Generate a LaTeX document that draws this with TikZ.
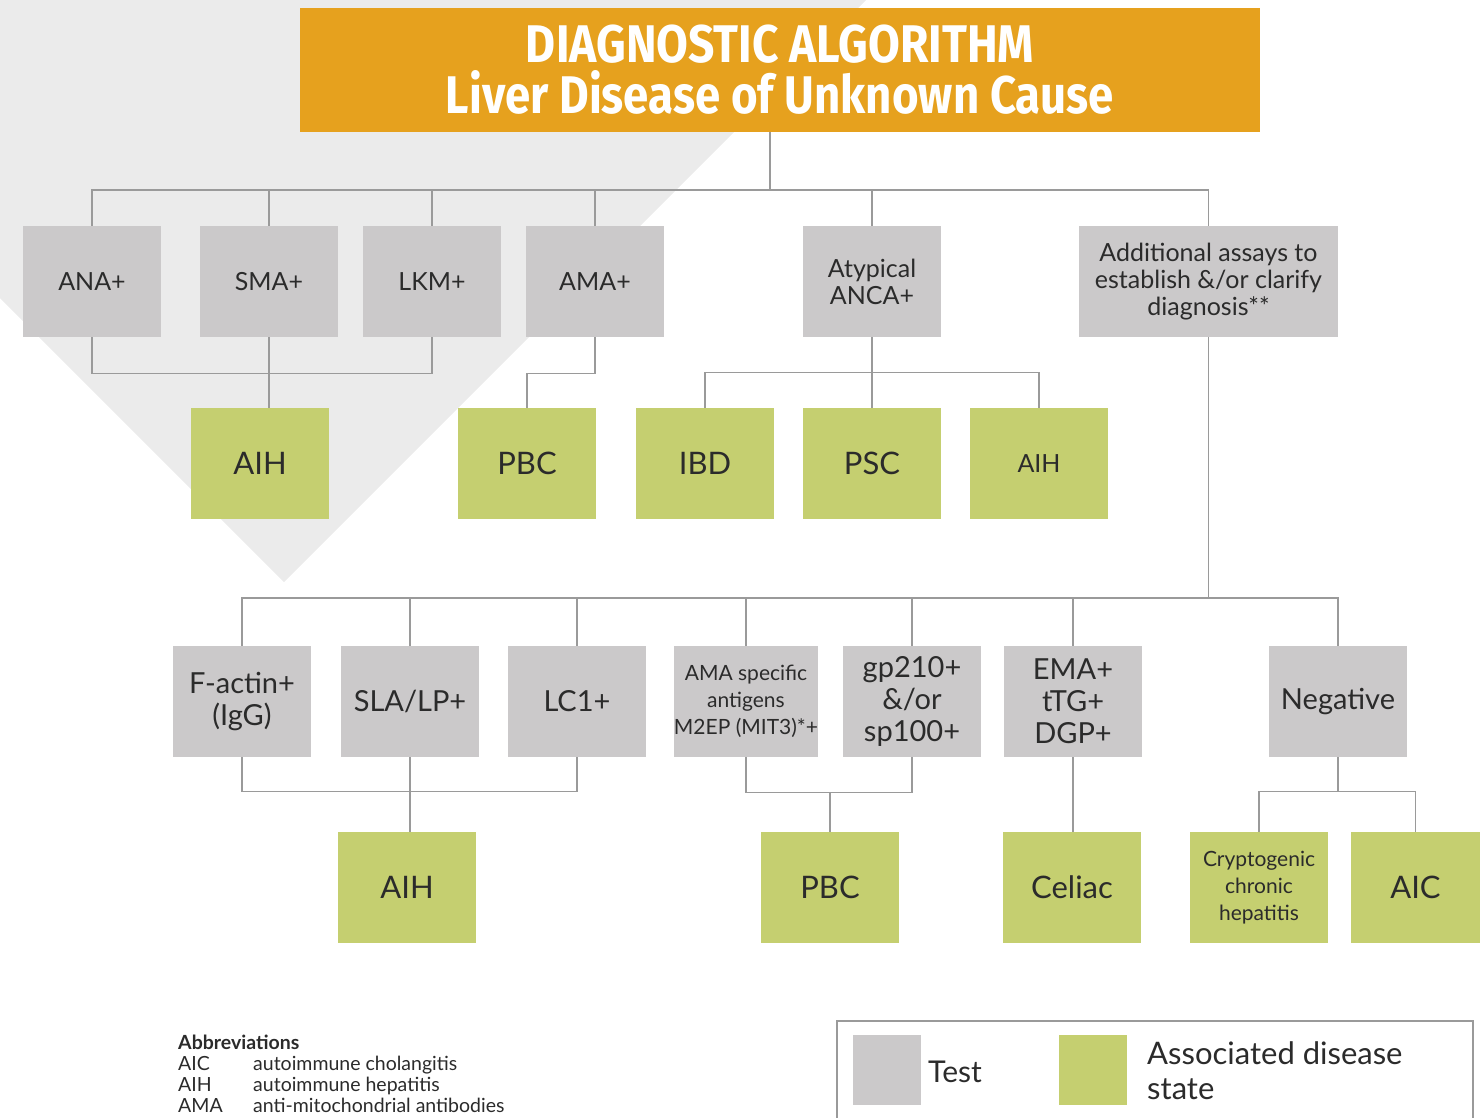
\documentclass[tikz,border=0pt]{standalone}
\usepackage{fontspec}
\setmainfont{Lato}
\newfontfamily\titlefont{Fira Sans}
\usetikzlibrary{positioning}

\definecolor{testgray}{HTML}{CBC9CA}
\definecolor{diseasegreen}{HTML}{C5CF70}
\definecolor{titleorange}{HTML}{E6A11E}
\definecolor{bggray}{HTML}{EBEBEB}
\definecolor{linegray}{HTML}{9A9A9A}
\definecolor{textdark}{HTML}{2B2B2B}

\begin{document}
\begin{tikzpicture}[%
  x = 1pt, y = -1pt,
  box/.style = {minimum width = 138, minimum height = 111, inner sep = 0pt,
    align = center, text = textdark},
  test/.style = {box, fill = testgray, font = \fontsize{25}{27}\selectfont},
  disease/.style = {box, fill = diseasegreen, font = \fontsize{31}{33}\selectfont},
  big/.style = {font = \fontsize{29}{32}\selectfont},
  small/.style = {font = \fontsize{21}{27}\selectfont},
  link/.style = {draw = linegray, line width = 1.3pt}]
  \useasboundingbox (0, 0) rectangle (1480, 1118);
  \fill[bggray] (0, 0) -- (866, 0) -- (284, 582) -- (0, 298) -- cycle;

  % title
  \node[fill = titleorange, minimum width = 960, minimum height = 124,
    inner sep = 0pt, align = center, text = white,
    font = \titlefont\bfseries\fontsize{53}{51}\selectfont] (title) at (780, 70)
    {\scalebox{0.87}[1]{DIAGNOSTIC ALGORITHM}\\\scalebox{0.86}[1]{Liver Disease of Unknown Cause}};

  % first tests
  \node[test] (ana)  at (92, 281.5)  {ANA+};
  \node[test] (sma)  at (269, 281.5) {SMA+};
  \node[test] (lkm)  at (432, 281.5) {LKM+};
  \node[test] (ama)  at (595, 281.5) {AMA+};
  \node[test] (anca) at (872, 281.5) {Atypical\\ANCA+};
  \node[test, minimum width = 259] (add) at (1208.5, 281.5)
    {Additional assays to\\establish \&/or clarify\\diagnosis**};

  % first diseases
  \node[disease] (aihA) at (260, 463.5)  {AIH};
  \node[disease] (pbcA) at (527, 463.5)  {PBC};
  \node[disease] (ibd)  at (705, 463.5)  {IBD};
  \node[disease] (psc)  at (872, 463.5)  {PSC};
  \node[disease, font = \fontsize{25}{27}\selectfont] (aihB) at (1039, 463.5) {AIH};

  % additional tests
  \node[test, big] (factin) at (242, 701.5)  {F-actin+\\(IgG)};
  \node[test, big] (sla)    at (410, 701.5)  {SLA/LP+};
  \node[test, big] (lc)     at (577, 701.5)  {LC1+};
  \node[test, small] (amasp) at (746, 701.5) {AMA specific\\antigens\\M2EP (MIT3)*+};
  \node[test, big] (gp)     at (912, 701.5)  {gp210+\\\&/or\\sp100+};
  \node[test, big] (ema)    at (1073, 701.5) {EMA+\\tTG+\\DGP+};
  \node[test, big] (neg)    at (1338, 701.5) {Negative};

  % second diseases
  \node[disease] (aihC)   at (407, 887.5)  {AIH};
  \node[disease] (pbcB)   at (830, 887.5)  {PBC};
  \node[disease] (celiac) at (1072, 887.5) {Celiac};
  \node[disease, small] (crypt) at (1259, 887.5) {Cryptogenic\\chronic\\hepatitis};
  \node[disease, minimum width = 129] (aic) at (1415.5, 887.5) {AIC};

  \coordinate (bus1) at (770, 190);
  \coordinate (bus2) at (1208, 598);

  % connectors
  \draw[link] (bus1 |- title.south) -- (bus1);
  \draw[link] (ana.north) -- (ana.north |- bus1) -| (add.north);
  \foreach \n in {sma, lkm, ama, anca}
    \draw[link] (\n.north) -- (\n.north |- bus1);
  \draw[link] (ana.south) -- ++(0, 36) -| (lkm.south);
  \draw[link] (sma.south) -- (sma.south |- aihA.north);
  \draw[link] (ama.south) -- ++(0, 36) -| (pbcA.north);
  \draw[link] (ibd.north) -- ++(0, -35) -| (aihB.north);
  \draw[link] (anca.south) -- (psc.north);

  \draw[link] (add.south) -- (add.south |- bus2);
  \draw[link] (factin.north) -- (factin.north |- bus2) -| (neg.north);
  \foreach \n in {sla, lc, amasp, gp, ema}
    \draw[link] (\n.north) -- (\n.north |- bus2);
  \draw[link] (factin.south) -- ++(0, 34) -| (lc.south);
  \draw[link] (sla.south) -- (sla.south |- aihC.north);
  \draw[link] (amasp.south) -- ++(0, 35) -| (gp.south);
  \draw[link] (pbcB.north) -- ++(0, -40);
  \draw[link] (ema.south) -- (ema.south |- celiac.north);
  \draw[link] (neg.south) -- ++(0, 35);
  \draw[link] (crypt.north) -- ++(0, -40) -| (aic.north);

  % legend
  \draw[linegray, line width = 2.5pt] (837, 1125) -- (837, 1021) -- (1473, 1021) -- (1473, 1125);
  \node[fill = testgray, minimum width = 68, minimum height = 70, inner sep = 0pt] (legtest) at (887, 1070) {};
  \node[anchor = west, text = textdark, font = \fontsize{30}{32}\selectfont, inner sep = 0pt]
    (legtesttext) at (928, 1072) {Test};
  \node[fill = diseasegreen, minimum width = 68, minimum height = 70, inner sep = 0pt] (legdis) at (1093, 1070) {};
  \node[anchor = west, text = textdark, align = left, font = \fontsize{31}{35}\selectfont, inner sep = 0pt]
    (legdistext) at (1147, 1071) {Associated disease\\state};

  % abbreviations
  \node[anchor = north west, align = left, text = textdark, inner sep = 0pt,
    font = \fontsize{19.5}{21}\selectfont] (abbr) at (178, 1035)
    {\textbf{Abbreviations}\\
     \makebox[75pt][l]{AIC}autoimmune cholangitis\\
     \makebox[75pt][l]{AIH}autoimmune hepatitis\\
     \makebox[75pt][l]{AMA}anti-mitochondrial antibodies};
\end{tikzpicture}
\end{document}
